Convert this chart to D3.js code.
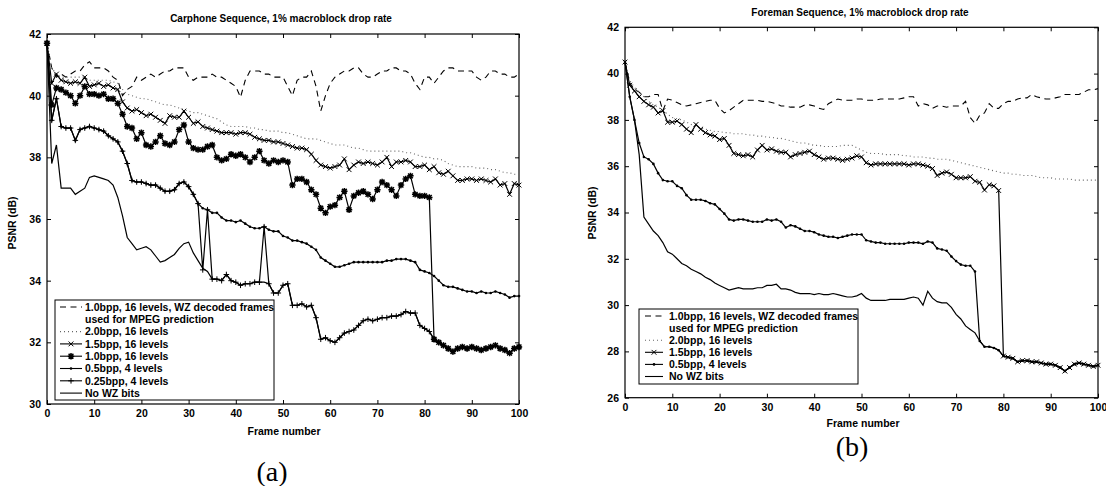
<!DOCTYPE html>
<html>
<head>
<meta charset="utf-8">
<script src="https://cdn.jsdelivr.net/npm/d3@7"></script>
<style>
body { margin: 0; background: #fff; }
text { font-family: "Liberation Sans", Arial, sans-serif; fill: #000; }
</style>
</head>
<body>
<svg id="chart" width="1106" height="486"></svg>
<script>
// frame index shared by both panels
const frames = d3.range(0, 101);
const xTicks = [0, 10, 20, 30, 40, 50, 60, 70, 80, 90, 100];
const yTicksA = [30, 32, 34, 36, 38, 40, 42];
const yTicksB = [26, 28, 30, 32, 34, 36, 38, 40, 42];

const titleA = "Carphone Sequence, 1% macroblock drop rate";
const titleB = "Foreman Sequence, 1% macroblock drop rate";

// (a) Carphone
const carDash = [41.7, 40.9, 40.6, 40.7, 40.6, 40.7, 40.8, 40.8, 41.0, 41.1,
    40.9, 40.9, 40.9, 40.8, 40.6, 40.5, 40.0, 40.2, 40.3, 40.6,
    40.5, 40.6, 40.7, 40.6, 40.7, 40.8, 40.8, 40.9, 40.9, 40.9,
    40.6, 40.5, 40.6, 40.6, 40.6, 40.7, 40.6, 40.6, 40.5, 40.4,
    40.3, 39.95, 40.5, 40.8, 40.8, 40.8, 40.7, 40.7, 40.6, 40.6,
    40.6, 40.3, 40.0, 40.5, 40.6, 40.6, 40.8, 40.3, 39.5, 40.0,
    40.4, 40.6, 40.7, 40.8, 40.8, 40.9, 40.9, 40.7, 40.6, 40.6,
    40.7, 40.8, 40.8, 40.9, 40.9, 40.8, 40.8, 40.7, 40.4, 40.2,
    40.6, 40.6, 40.4, 40.6, 40.8, 40.9, 40.9, 40.8, 40.8, 40.8,
    40.8, 40.6, 40.5, 40.6, 40.8, 40.8, 40.7, 40.7, 40.6, 40.6,
    40.7];
const carDot = [41.7, 40.9, 40.7, 40.6, 40.6, 40.6, 40.6, 40.6, 40.6, 40.5,
    40.5, 40.5, 40.5, 40.5, 40.45, 40.4, 40.2, 40.05, 40.0, 39.95,
    39.9, 39.9, 39.85, 39.8, 39.75, 39.7, 39.7, 39.65, 39.6, 39.55,
    39.5, 39.45, 39.45, 39.4, 39.35, 39.3, 39.25, 39.15, 39.05, 39.0,
    39.0, 39.0, 39.0, 38.95, 38.95, 38.9, 38.9, 38.85, 38.85, 38.85,
    38.8, 38.8, 38.75, 38.7, 38.65, 38.6, 38.6, 38.6, 38.55, 38.5,
    38.45, 38.4, 38.4, 38.4, 38.35, 38.3, 38.3, 38.25, 38.2, 38.2,
    38.2, 38.2, 38.2, 38.2, 38.2, 38.2, 38.15, 38.15, 38.1, 38.05,
    38.0, 38.0, 37.95, 37.95, 37.9, 37.8, 37.75, 37.7, 37.7, 37.7,
    37.7, 37.65, 37.65, 37.65, 37.6, 37.6, 37.55, 37.5, 37.5, 37.45,
    37.45];
const car15 = [41.7, 40.4, 40.7, 40.5, 40.45, 40.4, 40.45, 40.4, 40.6, 40.3,
    40.35, 40.4, 40.3, 40.35, 40.25, 40.2, 39.8, 39.6, 39.5, 39.55,
    39.45, 39.35, 39.4, 39.3, 39.2, 39.1, 39.35, 39.3, 39.3, 39.5,
    39.3, 39.1, 39.15, 39.0, 38.95, 38.9, 38.85, 38.8, 38.8, 38.8,
    38.75, 38.8, 38.8, 38.75, 38.65, 38.6, 38.55, 38.55, 38.5, 38.5,
    38.45, 38.4, 38.35, 38.3, 38.3, 38.25, 38.1, 37.9, 37.75, 37.7,
    37.65, 37.7, 37.75, 37.95, 37.6, 37.75, 37.85, 37.8, 37.85, 37.8,
    37.75, 37.85, 38.0, 37.7, 37.85, 37.85, 37.9, 37.85, 37.7, 37.7,
    37.75, 37.6, 37.7, 37.5, 37.45, 37.55, 37.4, 37.25, 37.25, 37.3,
    37.3, 37.25, 37.3, 37.25, 37.2, 37.3, 37.1, 37.15, 36.8, 37.15,
    37.1];
const car10 = [41.7, 39.7, 40.25, 40.2, 40.1, 40.0, 39.75, 40.0, 40.3, 40.05,
    40.05, 40.0, 40.05, 39.9, 39.9, 39.75, 39.4, 39.0, 38.95, 38.6,
    38.8, 38.4, 38.35, 38.5, 38.7, 38.45, 38.4, 38.5, 38.9, 39.05,
    38.5, 38.3, 38.25, 38.25, 38.35, 38.4, 38.0, 37.9, 37.95, 38.1,
    38.05, 38.1, 38.0, 37.85, 38.0, 38.2, 37.9, 37.8, 37.9, 37.85,
    37.9, 37.85, 37.1, 37.3, 37.3, 37.2, 36.95, 36.8, 36.35, 36.2,
    36.4, 36.45, 36.7, 36.9, 36.3, 36.75, 36.85, 36.9, 36.8, 36.65,
    36.95, 37.2, 37.1, 36.95, 36.75, 37.1, 37.3, 37.4, 36.8, 36.75,
    36.75, 36.7, 32.1, 32.0, 31.9, 31.8, 31.7, 31.8, 31.85, 31.8,
    31.85, 31.8, 31.75, 31.8, 31.85, 31.9, 31.8, 31.75, 31.65, 31.8,
    31.85];
const car05 = [41.7, 39.2, 39.9, 39.0, 38.95, 38.95, 38.55, 38.9, 38.95, 39.0,
    38.95, 38.9, 38.85, 38.7, 38.6, 38.5, 38.2, 37.8, 37.25, 37.2,
    37.2, 37.15, 37.1, 37.1, 37.0, 36.9, 36.9, 36.95, 37.15, 37.2,
    37.05, 36.8, 36.5, 36.35, 36.3, 36.2, 36.2, 36.05, 35.95, 35.95,
    35.9, 35.95, 35.85, 35.75, 35.7, 35.7, 35.75, 35.65, 35.6, 35.6,
    35.45, 35.4, 35.3, 35.3, 35.25, 35.2, 35.1, 35.0, 34.75, 34.65,
    34.55, 34.45, 34.45, 34.5, 34.55, 34.6, 34.6, 34.6, 34.6, 34.6,
    34.6, 34.6, 34.65, 34.65, 34.7, 34.7, 34.7, 34.65, 34.6, 34.35,
    34.3, 34.25, 34.15, 34.0, 33.85, 33.8, 33.8, 33.75, 33.7, 33.65,
    33.65, 33.6, 33.65, 33.6, 33.6, 33.65, 33.6, 33.55, 33.45, 33.5,
    33.5];
const car025 = [41.7, 39.2, 39.9, 39.0, 38.95, 38.95, 38.55, 38.9, 38.95, 39.0,
    38.95, 38.9, 38.85, 38.7, 38.6, 38.5, 38.2, 37.8, 37.25, 37.2,
    37.2, 37.15, 37.1, 37.1, 37.0, 36.9, 36.9, 36.95, 37.15, 37.2,
    37.05, 36.8, 36.5, 34.35, 36.3, 34.05, 34.05, 34.0, 34.2, 34.0,
    33.95, 33.85, 33.9, 33.9, 33.95, 33.95, 35.75, 33.9, 33.6, 33.6,
    33.85, 33.9, 33.2, 33.2, 33.25, 33.15, 33.2, 32.8, 32.1, 32.15,
    32.05, 32.0, 32.15, 32.3, 32.35, 32.4, 32.55, 32.7, 32.75, 32.7,
    32.75, 32.8, 32.8, 32.85, 32.85, 32.9, 33.0, 32.95, 32.95, 32.55,
    32.45, 32.35, 32.1, 32.0, 31.9, 31.8, 31.7, 31.8, 31.85, 31.8,
    31.85, 31.8, 31.75, 31.8, 31.85, 31.9, 31.8, 31.75, 31.65, 31.8,
    31.85];
const carNoWZ = [41.7, 37.8, 38.4, 37.0, 37.0, 37.0, 36.8, 36.9, 37.0, 37.35,
    37.4, 37.35, 37.3, 37.25, 37.1, 36.7, 36.1, 35.4, 35.2, 35.0,
    35.05, 35.1, 35.0, 34.8, 34.6, 34.65, 34.75, 34.85, 35.05, 35.2,
    35.25, 34.9, 34.65, 34.4, 34.3, 34.05, 34.05, 34.0, 34.2, 34.0,
    33.95, 33.85, 33.9, 33.9, 33.95, 33.95, 33.95, 33.9, 33.6, 33.6,
    33.85, 33.9, 33.2, 33.2, 33.25, 33.15, 33.2, 32.8, 32.1, 32.15,
    32.05, 32.0, 32.15, 32.3, 32.35, 32.4, 32.55, 32.7, 32.75, 32.7,
    32.75, 32.8, 32.8, 32.85, 32.85, 32.9, 33.0, 32.95, 32.95, 32.55,
    32.45, 32.35, 32.1, 32.0, 31.9, 31.8, 31.7, 31.8, 31.85, 31.8,
    31.85, 31.8, 31.75, 31.8, 31.85, 31.9, 31.8, 31.75, 31.65, 31.8,
    31.85];

// (b) Foreman
const forDash = [40.5, 39.6, 39.3, 39.2, 39.0, 39.0, 39.1, 39.1, 38.4, 38.9,
    38.85, 38.75, 38.65, 38.6, 38.65, 38.7, 38.75, 38.8, 38.85, 38.85,
    38.5, 38.3, 38.4, 38.55, 38.7, 38.85, 38.85, 38.85, 38.85, 38.8,
    38.8, 38.75, 38.7, 38.6, 38.6, 38.55, 38.55, 38.55, 38.65, 38.65,
    38.6, 38.5, 38.45, 38.7, 38.8, 38.9, 38.85, 38.85, 38.85, 38.9,
    38.9, 38.85, 38.85, 38.85, 38.9, 38.9, 38.9, 38.9, 38.9, 38.95,
    39.0, 39.0, 38.6, 38.7, 38.65, 38.5, 38.6, 38.6, 38.55, 38.6,
    38.6, 38.6, 38.8, 38.1, 37.85, 38.2, 38.3, 38.7, 38.5, 38.5,
    38.7, 38.8, 38.8, 38.9, 38.95, 38.95, 39.1, 39.0, 38.95, 38.9,
    38.9, 38.95, 39.0, 39.1, 39.1, 39.1, 39.1, 39.2, 39.3, 39.3,
    39.35];
const forDot = [40.5, 39.7, 39.4, 39.2, 39.0, 38.8, 38.65, 38.55, 38.4, 38.25,
    38.1, 38.05, 38.0, 37.9, 37.8, 37.7, 37.65, 37.6, 37.55, 37.5,
    37.5, 37.45, 37.45, 37.4, 37.4, 37.4, 37.35, 37.35, 37.3, 37.3,
    37.25, 37.25, 37.2, 37.2, 37.15, 37.1, 37.05, 37.0, 37.0, 36.95,
    36.9, 36.9, 36.85, 36.85, 36.85, 36.85, 36.9, 36.9, 36.9, 36.8,
    36.7, 36.6, 36.55, 36.55, 36.55, 36.5, 36.5, 36.5, 36.5, 36.45,
    36.45, 36.4, 36.4, 36.4, 36.35, 36.35, 36.3, 36.3, 36.3, 36.25,
    36.2, 36.15, 36.1, 36.05, 36.0, 35.95, 35.9, 35.85, 35.8, 35.75,
    35.7, 35.7, 35.65, 35.65, 35.6, 35.6, 35.6, 35.55, 35.5, 35.5,
    35.5, 35.45, 35.45, 35.45, 35.45, 35.4, 35.4, 35.4, 35.4, 35.4,
    35.4];
const for15 = [40.5, 39.5, 39.25, 39.0, 38.8, 38.65, 38.55, 38.3, 38.4, 37.9,
    37.9, 37.95, 37.8, 37.6, 37.45, 37.8, 37.6, 37.45, 37.35, 37.3,
    37.15, 37.2, 36.9, 36.55, 36.5, 36.45, 36.5, 36.4, 36.7, 36.9,
    36.7, 36.75, 36.65, 36.6, 36.6, 36.4, 36.5, 36.55, 36.6, 36.65,
    36.5, 36.4, 36.3, 36.35, 36.35, 36.3, 36.25, 36.3, 36.35, 36.45,
    36.4, 36.15, 36.05, 36.1, 36.1, 36.1, 36.1, 36.1, 36.1, 36.1,
    36.05, 36.1, 36.1, 36.05, 36.0, 35.9, 35.6, 35.7, 35.75, 35.65,
    35.5, 35.5, 35.5, 35.55, 35.35, 35.3, 34.97, 35.2, 35.15, 34.95,
    27.8, 27.75, 27.7, 27.55, 27.6, 27.6, 27.55, 27.55, 27.5, 27.45,
    27.45, 27.4, 27.3, 27.15, 27.3, 27.45, 27.5, 27.45, 27.4, 27.35,
    27.4];
const for05 = [40.5, 39.0, 38.0, 37.0, 36.4, 36.3, 36.1, 35.7, 35.4, 35.35,
    35.35, 35.15, 35.05, 34.75, 34.55, 34.55, 34.55, 34.5, 34.4, 34.35,
    34.15, 33.95, 33.7, 33.65, 33.7, 33.7, 33.65, 33.6, 33.6, 33.6,
    33.7, 33.65, 33.7, 33.6, 33.35, 33.45, 33.4, 33.3, 33.2, 33.2,
    33.15, 33.05, 33.0, 32.95, 32.95, 32.9, 32.95, 33.0, 33.05, 33.05,
    33.05, 32.8, 32.75, 32.7, 32.7, 32.65, 32.65, 32.65, 32.65, 32.65,
    32.7, 32.7, 32.7, 32.65, 32.75, 32.7, 32.45, 32.4, 32.35, 32.1,
    31.9, 31.75, 31.7, 31.7, 31.45, 28.45, 28.2, 28.2, 28.15, 28.05,
    27.8, 27.75, 27.7, 27.55, 27.6, 27.6, 27.55, 27.55, 27.5, 27.45,
    27.45, 27.4, 27.3, 27.15, 27.3, 27.45, 27.5, 27.45, 27.4, 27.35,
    27.4];
const forNoWZ = [40.5, 39.0, 38.0, 36.5, 33.8, 33.5, 33.2, 33.0, 32.7, 32.3,
    32.2, 32.0, 31.8, 31.7, 31.55, 31.45, 31.35, 31.2, 31.1, 30.95,
    30.85, 30.75, 30.65, 30.7, 30.75, 30.7, 30.7, 30.7, 30.75, 30.75,
    30.85, 30.85, 30.9, 30.7, 30.7, 30.65, 30.55, 30.5, 30.5, 30.5,
    30.45, 30.5, 30.45, 30.45, 30.5, 30.45, 30.4, 30.35, 30.35, 30.4,
    30.5, 30.3, 30.2, 30.2, 30.2, 30.2, 30.25, 30.25, 30.25, 30.25,
    30.3, 30.35, 30.3, 30.0, 30.6, 30.3, 30.15, 30.1, 30.1, 29.9,
    29.6, 29.4, 29.1, 28.95, 28.8, 28.45, 28.2, 28.2, 28.15, 28.05,
    27.8, 27.75, 27.7, 27.55, 27.6, 27.6, 27.55, 27.55, 27.5, 27.45,
    27.45, 27.4, 27.3, 27.15, 27.3, 27.45, 27.5, 27.45, 27.4, 27.35,
    27.4];

const legendA = ["1.0bpp, 16 levels, WZ decoded frames", "used for MPEG prediction",
    "2.0bpp, 16 levels", "1.5bpp, 16 levels", "1.0bpp, 16 levels",
    "0.5bpp, 4 levels", "0.25bpp, 4 levels", "No WZ bits"];
const legendB = ["1.0bpp, 16 levels, WZ decoded frames", "used for MPEG prediction",
    "2.0bpp, 16 levels", "1.5bpp, 16 levels", "0.5bpp, 4 levels", "No WZ bits"];

// line styles
const dashed = { dash: "6,4.5" };
const dotted = { dash: "1,3", color: "#666" };

const panels = [
    {
        left: 47, right: 519, top: 34, bottom: 404,
        yDomain: [30, 42], yTicks: yTicksA,
        title: titleA, titleX: 281, titleY: 22,
        ylabX: 16, ylabY: 223, xlabX: 284, xlabY: 435,
        tag: "(a)", tagX: 272, tagY: 481,
        series: [
            Object.assign({ values: carDash }, dashed),
            Object.assign({ values: carDot }, dotted),
            { values: car15, marker: "x" },
            { values: car10, marker: "*" },
            { values: car05, marker: "." },
            { values: car025, marker: "+" },
            { values: carNoWZ }
        ],
        legend: { x: 55, y: 300, w: 219, h: 100, row0: 307, rowH: 12.3, s0: 60, s1: 82, tx: 85,
            labels: legendA, map: [0, null, 1, 2, 3, 4, 5, 6] }
    },
    {
        left: 625, right: 1098, top: 27.3, bottom: 397.7,
        yDomain: [26, 42], yTicks: yTicksB,
        title: titleB, titleX: 860, titleY: 16,
        ylabX: 596, ylabY: 213, xlabX: 863, xlabY: 427,
        tag: "(b)", tagX: 852, tagY: 456,
        series: [
            Object.assign({ values: forDash }, dashed),
            Object.assign({ values: forDot }, dotted),
            { values: for15, marker: "x" },
            { values: for05, marker: "." },
            { values: forNoWZ }
        ],
        legend: { x: 639, y: 309, w: 219, h: 75, row0: 316, rowH: 12.1, s0: 645, s1: 663, tx: 669,
            labels: legendB, map: [0, null, 1, 2, 3, 4] }
    }
];

const svg = d3.select("#chart");
panels.forEach(p => drawPanel(svg, p));

function markerPath(type, s) {
    const plus = `M${-s},0H${s}M0,${-s}V${s}`;
    const d = s * 0.75;
    const cross = `M${-d},${-d}L${d},${d}M${-d},${d}L${d},${-d}`;
    if (type === "+") return plus;
    if (type === "x") return `M${-s},${-s}L${s},${s}M${-s},${s}L${s},${-s}`;
    return plus + cross;
}

function drawMarker(g, type, cx, cy) {
    if (type === ".") {
        g.append("circle").attr("cx", cx).attr("cy", cy).attr("r", 1.3).attr("fill", "#000");
        return;
    }
    const size = type === "*" ? 3.2 : (type === "x" ? 2.4 : 2.8);
    g.append("path")
        .attr("transform", `translate(${cx},${cy})`)
        .attr("d", markerPath(type, size))
        .attr("stroke", "#000")
        .attr("stroke-width", type === "*" ? 1.5 : 1)
        .attr("fill", "none");
}

function drawPanel(svg, p) {
    const x = d3.scaleLinear().domain([0, 100]).range([p.left, p.right]);
    const y = d3.scaleLinear().domain(p.yDomain).range([p.bottom, p.top]);
    const g = svg.append("g");
    const tickFont = sel => sel.selectAll("text")
        .attr("font-size", 10.5).attr("font-weight", "bold")
        .attr("font-family", "Liberation Sans, Arial, sans-serif");

    g.append("g")
        .attr("transform", `translate(0,${p.bottom})`)
        .call(d3.axisBottom(x).tickValues(xTicks).tickSize(-4).tickPadding(6))
        .call(tickFont);
    g.append("g")
        .attr("transform", `translate(${p.left},0)`)
        .call(d3.axisLeft(y).tickValues(p.yTicks).tickSize(-4).tickPadding(6))
        .call(tickFont);
    g.append("g")
        .attr("transform", `translate(0,${p.top})`)
        .call(d3.axisTop(x).tickValues(xTicks).tickSize(-4).tickFormat(""));
    g.append("g")
        .attr("transform", `translate(${p.right},0)`)
        .call(d3.axisRight(y).tickValues(p.yTicks).tickSize(-4).tickFormat(""));
    g.selectAll(".domain").remove();
    g.selectAll(".tick line").attr("stroke", "#000");

    g.append("rect")
        .attr("x", p.left).attr("y", p.top)
        .attr("width", p.right - p.left).attr("height", p.bottom - p.top)
        .attr("fill", "none").attr("stroke", "#000").attr("stroke-width", 1.2);

    const line = d3.line().x((v, i) => x(frames[i])).y(v => y(v));

    p.series.forEach(s => {
        g.append("path")
            .attr("d", line(s.values))
            .attr("fill", "none")
            .attr("stroke", s.color || "#000")
            .attr("stroke-width", s.dash ? 1.1 : 1.2)
            .attr("stroke-dasharray", s.dash || null);
        if (s.marker) {
            const mg = g.append("g");
            s.values.forEach((v, i) => drawMarker(mg, s.marker, x(frames[i]), y(v)));
        }
    });

    // titles and labels
    g.append("text").attr("x", p.titleX).attr("y", p.titleY)
        .attr("text-anchor", "middle").attr("font-size", 10).attr("font-weight", "bold")
        .text(p.title);
    g.append("text").attr("x", p.xlabX).attr("y", p.xlabY)
        .attr("text-anchor", "middle").attr("font-size", 10.5).attr("font-weight", "bold")
        .text("Frame number");
    g.append("text")
        .attr("transform", `translate(${p.ylabX},${p.ylabY}) rotate(-90)`)
        .attr("text-anchor", "middle").attr("font-size", 10.5).attr("font-weight", "bold")
        .text("PSNR (dB)");
    g.append("text").attr("x", p.tagX).attr("y", p.tagY)
        .attr("text-anchor", "middle").attr("font-size", 28)
        .style("font-family", "'Liberation Serif', 'DejaVu Serif', serif")
        .text(p.tag);

    // legend
    const L = p.legend;
    const lg = g.append("g");
    lg.append("rect").attr("x", L.x).attr("y", L.y).attr("width", L.w).attr("height", L.h)
        .attr("fill", "#fff").attr("stroke", "#000").attr("stroke-width", 1);
    L.labels.forEach((label, i) => {
        const ry = L.row0 + i * L.rowH;
        lg.append("text").attr("x", L.tx).attr("y", ry + 3.8)
            .attr("font-size", 10.5).attr("font-weight", "bold").text(label);
        const si = L.map[i];
        if (si === null) return;
        const s = p.series[si];
        lg.append("line").attr("x1", L.s0).attr("x2", L.s1).attr("y1", ry).attr("y2", ry)
            .attr("stroke", s.color || "#000").attr("stroke-width", 1.1)
            .attr("stroke-dasharray", s.dash || null);
        if (s.marker) drawMarker(lg, s.marker, (L.s0 + L.s1) / 2, ry);
    });
}
</script>
</body>
</html>
